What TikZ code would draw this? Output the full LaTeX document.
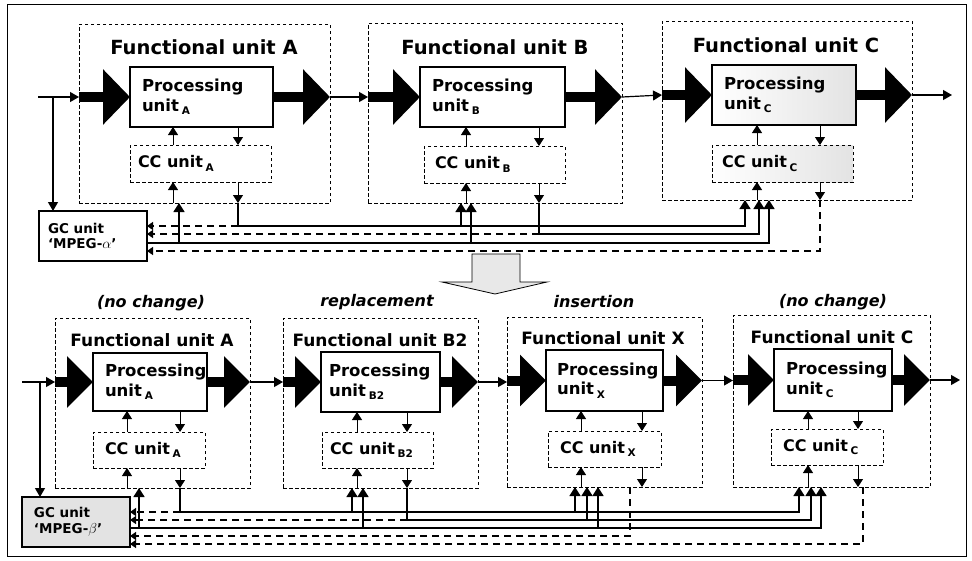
\documentclass[tikz,border=0pt]{standalone}
\usepackage{fontspec}
\setmainfont{DejaVu Sans}
\usetikzlibrary{arrows.meta}
\newcommand{\subl}[1]{\,\raisebox{-0.4ex}{\fontsize{10.5}{10.5}\selectfont #1}}
\newcommand{\rbox}[7]{%
  \pgfmathsetmacro\rw{#5-#3}\pgfmathsetmacro\rh{#6-#4}%
  \node[#1, minimum width=\rw pt, minimum height=\rh pt, anchor=north west] (#2) at (#3,#4) {#7};}
\begin{document}
\begin{tikzpicture}[x=1pt,y=-1pt,
  every node/.style={inner sep=0pt, outer sep=0pt},
  fuframe/.style={draw, dash pattern=on 3.5pt off 2.5pt, line width=0.7pt},
  pubox/.style={draw, line width=1.1pt, fill=white},
  ccbox/.style={draw, dash pattern=on 3.5pt off 2.5pt, line width=0.8pt, fill=white},
  gcbox/.style={draw, line width=1.1pt},
  titleA/.style={font=\bfseries\fontsize{19.5}{22}\selectfont},
  titleB/.style={font=\bfseries\fontsize{17}{20}\selectfont},
  putext/.style={font=\bfseries\fontsize{16.5}{19.5}\selectfont, align=left, anchor=west},
  cctext/.style={font=\bfseries\fontsize{16}{18}\selectfont, align=left, anchor=west},
  gctext/.style={font=\bfseries\fontsize{13.5}{15.5}\selectfont, align=left, anchor=west},
  lbl/.style={font=\bfseries\itshape\fontsize{16}{19}\selectfont},
  sarr/.style={line width=1pt, -{Triangle[width=10pt,length=8pt]}},
  busarr/.style={line width=1.6pt, -{Triangle[width=11pt,length=9pt]}},
  bus/.style={line width=1.6pt},
  dbus/.style={line width=1.4pt, dash pattern=on 7pt off 5pt},
  dbusarr/.style={dbus, -{Triangle[width=8pt,length=6pt]}},
  bigarr/.style={line width=10pt, -{Triangle[width=54pt,length=27pt]}},
  bigarrb/.style={line width=10pt, -{Triangle[width=50pt,length=26pt]}},
  arr/.style={line width=1.2pt, -{Triangle[width=10pt,length=9pt]}}
]
\useasboundingbox (0,0) rectangle (972,560);
\draw[line width=0.8pt] (7,4) rectangle (966,556);

% ===================== TOP ROW =====================
\rbox{fuframe}{fA}{79}{24}{330}{203}{}
\rbox{fuframe}{fB}{368}{23}{622}{203}{}
\rbox{fuframe}{fC}{662}{21}{912}{200}{}
\node[titleA] (tA) at (204,47) {Functional unit A};
\node[titleA] (tB) at (495,47) {Functional unit B};
\node[titleA] (tC) at (786,45) {Functional unit C};
\rbox{pubox}{pA}{130}{67}{273}{127}{}
\rbox{pubox}{pB}{420}{67}{565}{127}{}
\rbox{pubox, left color=white, right color=gray!22}{pC}{712}{65}{856}{125}{}
\node[putext] (pAt) at ([xshift=12pt]pA.west) {Processing\\unit\subl{A}};
\node[putext] (pBt) at ([xshift=12pt]pB.west) {Processing\\unit\subl{B}};
\node[putext] (pCt) at ([xshift=12pt]pC.west) {Processing\\unit\subl{C}};
\rbox{ccbox}{cA}{130}{145}{271}{182}{}
\rbox{ccbox}{cB}{424}{146}{565}{183}{}
\rbox{ccbox, left color=white, right color=gray!22}{cC}{712}{145}{853}{182}{}
\node[cctext] (cAt) at ([xshift=8pt]cA.west) {CC unit\subl{A}};
\node[cctext] (cBt) at ([xshift=11pt]cB.west) {CC unit\subl{B}};
\node[cctext] (cCt) at ([xshift=10pt]cC.west) {CC unit\subl{C}};
\rbox{gcbox}{gA}{39}{211}{147}{261}{}
\node[gctext] (gAt) at ([xshift=9pt]gA.west) {GC unit\\`MPEG-$\alpha$'};

% big arrows
\draw[bigarr] (fA.west |- pA.west) -- (pA.west);
\draw[bigarr] (pA.east) -- (pA.east -| fA.east);
\draw[bigarr] (fB.west |- pB.west) -- (pB.west);
\draw[bigarr] (pB.east) -- (pB.east -| fB.east);
\draw[bigarr] (fC.west |- pC.west) -- (pC.west);
\draw[bigarr] (pC.east) -- (pC.east -| fC.east);
% data line
\coordinate (inA) at (38,97);
\coordinate (brA) at (53,97);
\coordinate (outC) at (952,97);
\draw[arr] (inA) -- (fA.west |- inA);
\draw[arr] (brA) -- (gA.north -| brA);
\draw[arr] (pA.east -| fA.east) -- (fB.west |- pB.west);
\draw[arr] (pB.east -| fB.east) -- (fC.west |- pC.west);
\draw[arr] (pC.east -| fC.east) -- (outC |- pC.east);

% x positions
\coordinate (uA) at (173,0); \coordinate (dA) at (238,0);
\coordinate (uB) at (466,0); \coordinate (dB) at (539,0);
\coordinate (uC) at (757,0); \coordinate (dC) at (820,0);
\coordinate (xA3) at (179,0);
\coordinate (xB1) at (461,0); \coordinate (xB3) at (471,0);
\coordinate (xC1) at (745,0); \coordinate (xC2) at (759,0); \coordinate (xC3) at (769,0);
\coordinate (T1) at (0,226); \coordinate (T2) at (0,234);
\coordinate (T3) at (0,243); \coordinate (T4) at (0,251);

% inner arrows
\foreach \f/\p/\c/\u/\d in {fA/pA/cA/uA/dA, fB/pB/cB/uB/dB, fC/pC/cC/uC/dC}{
  \draw[sarr] (\c.north -| \u) -- (\p.south -| \u);
  \draw[sarr] (\p.south -| \d) -- (\c.north -| \d);
  \draw[sarr] (\f.south -| \u) -- (\c.south -| \u);
  \draw[sarr] (\c.south -| \d) -- (\f.south -| \d);
}
% bus
\draw[bus] (fA.south -| dA) -- (dA |- T1);
\draw[dbusarr] (dA |- T1) -- (gA.east |- T1);
\draw[busarr] (dA |- T1) -- (xC1 |- T1) -- (fC.south -| xC1);
\draw[busarr] (xB1 |- T1) -- (fB.south -| xB1);
\draw[bus] (fB.south -| dB) -- (dB |- T2);
\draw[dbusarr] (dB |- T2) -- (gA.east |- T2);
\draw[busarr] (dB |- T2) -- (xC2 |- T2) -- (fC.south -| xC2);
\draw[busarr] (gA.east |- T3) -- (xC3 |- T3) -- (fC.south -| xC3);
\draw[busarr] (xA3 |- T3) -- (fA.south -| xA3);
\draw[busarr] (xB3 |- T3) -- (fB.south -| xB3);
\draw[dbusarr] (fC.south -| dC) -- (dC |- T4) -- (gA.east |- T4);

% ===================== TRANSITION ARROW =====================
\draw[line width=0.8pt, fill=gray!18] (472,254) -- (520,254) -- (520,282) -- (547,282)
  -- (495,294) -- (442,282) -- (472,282) -- cycle;

% ===================== BOTTOM ROW =====================
\node[lbl] (lA) at (151,303) {(no change)};
\node[lbl] (lB) at (377,302) {replacement};
\node[lbl] (lX) at (594,302) {insertion};
\node[lbl] (lC) at (833,302) {(no change)};
\rbox{fuframe}{gfA}{55}{318}{250}{488}{}
\rbox{fuframe}{gfB}{283}{318}{478}{488}{}
\rbox{fuframe}{gfX}{507}{317}{702}{487}{}
\rbox{fuframe}{gfC}{733}{315}{930}{487}{}
\node[titleB] (btA) at (152,340) {Functional unit A};
\node[titleB] (btB) at (380,340) {Functional unit B2};
\node[titleB] (btX) at (603,338) {Functional unit X};
\node[titleB] (btC) at (832,337) {Functional unit C};
\rbox{pubox}{gpA}{93}{353}{207}{411}{}
\rbox{pubox}{gpB}{321}{352}{440}{412}{}
\rbox{pubox}{gpX}{546}{350}{663}{411}{}
\rbox{pubox}{gpC}{774}{349}{892}{411}{}
\node[putext] (gpAt) at ([xshift=12pt]gpA.west) {Processing\\unit\subl{A}};
\node[putext] (gpBt) at ([xshift=8pt]gpB.west) {Processing\\unit\subl{B2}};
\node[putext] (gpXt) at ([xshift=11pt]gpX.west) {Processing\\unit\subl{X}};
\node[putext] (gpCt) at ([xshift=12pt]gpC.west) {Processing\\unit\subl{C}};
\rbox{ccbox}{gcA}{93}{432}{205}{468}{}
\rbox{ccbox}{gcB}{322}{432}{433}{468}{}
\rbox{ccbox}{gcX}{548}{431}{661}{467}{}
\rbox{ccbox}{gcC}{771}{429}{883}{465}{}
\node[cctext] (gcAt) at ([xshift=12pt]gcA.west) {CC unit\subl{A}};
\node[cctext] (gcBt) at ([xshift=8pt]gcB.west) {CC unit\subl{B2}};
\node[cctext] (gcXt) at ([xshift=12pt]gcX.west) {CC unit\subl{X}};
\node[cctext] (gcCt) at ([xshift=12pt]gcC.west) {CC unit\subl{C}};
\rbox{gcbox, fill=gray!22}{gB}{22}{497}{130}{547}{}
\node[gctext] (gBt) at ([xshift=12pt]gB.west) {GC unit\\`MPEG-$\beta$'};

\draw[bigarrb] (gfA.west |- gpA.west) -- (gpA.west);
\draw[bigarrb] (gpA.east) -- (gpA.east -| gfA.east);
\draw[bigarrb] (gfB.west |- gpB.west) -- (gpB.west);
\draw[bigarrb] (gpB.east) -- (gpB.east -| gfB.east);
\draw[bigarrb] (gfX.west |- gpX.west) -- (gpX.west);
\draw[bigarrb] (gpX.east) -- (gpX.east -| gfX.east);
\draw[bigarrb] (gfC.west |- gpC.west) -- (gpC.west);
\draw[bigarrb] (gpC.east) -- (gpC.east -| gfC.east);
\coordinate (binA) at (22,382);
\coordinate (bbrA) at (40,382);
\coordinate (boutC) at (960,382);
\draw[arr] (binA) -- (gfA.west |- binA);
\draw[arr] (bbrA) -- (gB.north -| bbrA);
\draw[arr] (gpA.east -| gfA.east) -- (gfB.west |- gpA.east);
\draw[arr] (gpB.east -| gfB.east) -- (gfX.west |- gpB.east);
\draw[arr] (gpX.east -| gfX.east) -- (gfC.west |- gpX.east);
\draw[arr] (gpC.east -| gfC.east) -- (boutC |- gpC.east);

\coordinate (buA) at (127,0); \coordinate (bdA) at (180,0);
\coordinate (buB) at (357,0); \coordinate (bdB) at (407,0);
\coordinate (buX) at (581,0); \coordinate (bdX) at (642,0);
\coordinate (buC) at (808,0); \coordinate (bdC) at (858,0);
\coordinate (yA3) at (139,0);
\coordinate (yB1) at (352,0); \coordinate (yB3) at (363,0);
\coordinate (yX1) at (575,0); \coordinate (yX2) at (587,0); \coordinate (yX3) at (598,0);
\coordinate (yC1) at (799,0); \coordinate (yC2) at (811,0); \coordinate (yC3) at (821,0);
\coordinate (yXd) at (630,0); \coordinate (yCd) at (863,0);
\coordinate (L1) at (0,512); \coordinate (L2) at (0,520); \coordinate (L3) at (0,528);
\coordinate (L4) at (0,536); \coordinate (L5) at (0,544);

\foreach \f/\p/\c/\u/\d in {gfA/gpA/gcA/buA/bdA, gfB/gpB/gcB/buB/bdB, gfX/gpX/gcX/buX/bdX, gfC/gpC/gcC/buC/bdC}{
  \draw[sarr] (\c.north -| \u) -- (\p.south -| \u);
  \draw[sarr] (\p.south -| \d) -- (\c.north -| \d);
  \draw[sarr] (\f.south -| \u) -- (\c.south -| \u);
  \draw[sarr] (\c.south -| \d) -- (\f.south -| \d);
}
\draw[bus] (gfA.south -| bdA) -- (bdA |- L1);
\draw[dbusarr] (bdA |- L1) -- (gB.east |- L1);
\draw[busarr] (bdA |- L1) -- (yC1 |- L1) -- (gfC.south -| yC1);
\draw[busarr] (yB1 |- L1) -- (gfB.south -| yB1);
\draw[busarr] (yX1 |- L1) -- (gfX.south -| yX1);
\draw[bus] (gfB.south -| bdB) -- (bdB |- L2);
\draw[dbusarr] (bdB |- L2) -- (gB.east |- L2);
\draw[busarr] (bdB |- L2) -- (yC2 |- L2) -- (gfC.south -| yC2);
\draw[busarr] (yX2 |- L2) -- (gfX.south -| yX2);
\draw[busarr] (gB.east |- L3) -- (yC3 |- L3) -- (gfC.south -| yC3);
\draw[busarr] (yA3 |- L3) -- (gfA.south -| yA3);
\draw[busarr] (yB3 |- L3) -- (gfB.south -| yB3);
\draw[busarr] (yX3 |- L3) -- (gfX.south -| yX3);
\draw[dbusarr] (gfX.south -| yXd) -- (yXd |- L4) -- (gB.east |- L4);
\draw[dbusarr] (gfC.south -| yCd) -- (yCd |- L5) -- (gB.east |- L5);
\end{tikzpicture}
\end{document}
